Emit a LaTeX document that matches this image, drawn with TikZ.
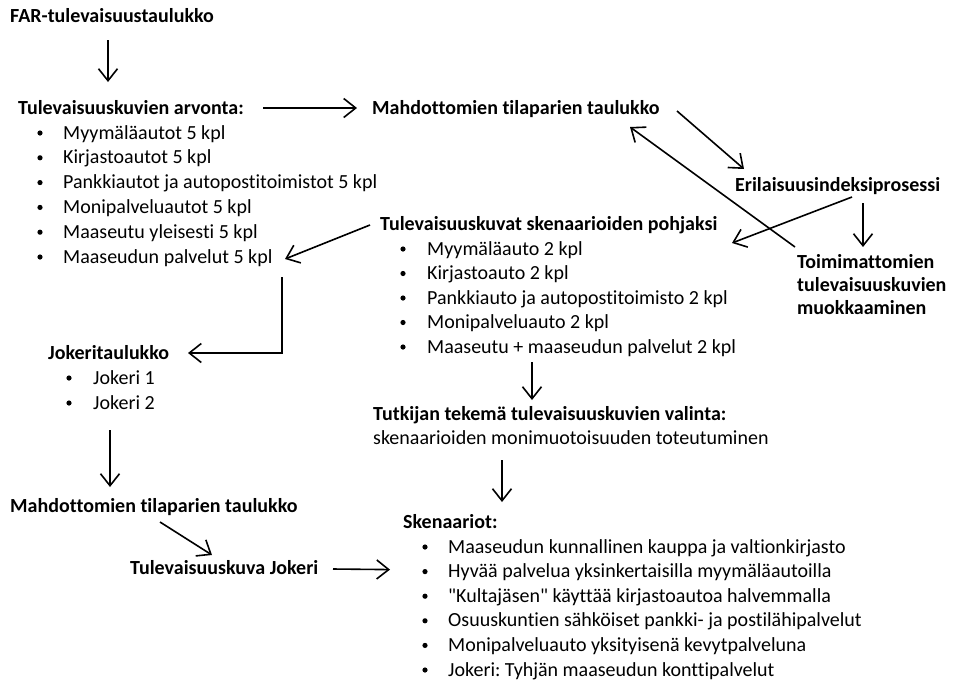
\documentclass[tikz,border=0pt]{standalone}
\usepackage{fontspec}
\setmainfont{Carlito}[Ligatures={NoCommon}]
\usetikzlibrary{arrows.meta,calc}
\frenchspacing
\begin{document}
\begin{tikzpicture}[x=1pt,y=-1pt,
  txt/.style={anchor=base west, inner sep=0pt, font=\fontsize{20}{24}\selectfont},
  hd/.style={anchor=base west, inner sep=0pt, font=\fontsize{20}{24}\selectfont\bfseries},
  arr/.style={line width=1.6pt, -{Straight Barb[length=12pt,width=19pt,line width=1.6pt]}},
  bul/.style={fill=black}]
\fill[white] (0,0) rectangle (953,681);
\useasboundingbox (0,0) rectangle (953,681);

% headings
\node[hd] (far) at (10,22) {FAR-tulevaisuustaulukko};
\node[hd] (arv) at (18,114) {Tulevaisuuskuvien arvonta:};
\node[hd] (mahd1) at (372,114) {Mahdottomien tilaparien taulukko};
\node[hd] (eril) at (735,191) {Erilaisuusindeksiprosessi};
\node[hd] (toim1) at (797,268) {Toimimattomien};
\node[hd] (toim2) at (797,291) {tulevaisuuskuvien};
\node[hd] (toim3) at (797,314) {muokkaaminen};
\node[hd] (tk) at (380,230) {Tulevaisuuskuvat skenaarioiden pohjaksi};
\node[hd] (tutk) at (373,420) {Tutkijan tekemä tulevaisuuskuvien valinta:};
\node[txt] (tutk2) at (373,444) {skenaarioiden monimuotoisuuden toteutuminen};
\node[hd] (sken) at (403,528) {Skenaariot:};
\node[hd] (jok) at (48,359) {Jokeritaulukko};
\node[hd] (mahd2) at (10,512) {Mahdottomien tilaparien taulukko};
\node[hd] (tkj) at (130,574) {Tulevaisuuskuva Jokeri};

% list 1
\foreach \t [count=\i] in {Myymäläautot 5 kpl, Kirjastoautot 5 kpl, Pankkiautot ja autopostitoimistot 5 kpl, Monipalveluautot 5 kpl, Maaseutu yleisesti 5 kpl, Maaseudun palvelut 5 kpl}{
  \node[txt] (l1-\i) at (63,{139+24.8*(\i-1)}) {\t};
  \fill[bul] ($(l1-\i.base west)+(-23,-6)$) circle (2.6pt);
}
% list 2
\foreach \t [count=\i] in {Myymäläauto 2 kpl, Kirjastoauto 2 kpl, Pankkiauto ja autopostitoimisto 2 kpl, Monipalveluauto 2 kpl, Maaseutu + maaseudun palvelut 2 kpl}{
  \node[txt] (l2-\i) at (427,{255+24.5*(\i-1)}) {\t};
  \fill[bul] ($(l2-\i.base west)+(-24,-6)$) circle (2.6pt);
}
% jokeri list
\foreach \t [count=\i] in {Jokeri 1, Jokeri 2}{
  \node[txt] (j-\i) at (93,{384+25*(\i-1)}) {\t};
  \fill[bul] ($(j-\i.base west)+(-24,-6)$) circle (2.6pt);
}
% skenaariot list
\foreach \t [count=\i] in {Maaseudun kunnallinen kauppa ja valtionkirjasto, Hyvää palvelua yksinkertaisilla myymäläautoilla, \textquotedbl Kultajäsen\textquotedbl{} käyttää kirjastoautoa halvemmalla, Osuuskuntien sähköiset pankki- ja postilähipalvelut, Monipalveluauto yksityisenä kevytpalveluna, Jokeri: Tyhjän maaseudun konttipalvelut}{
  \node[txt] (s-\i) at (448,{553+24.6*(\i-1)}) {\t};
  \fill[bul] ($(s-\i.base west)+(-23,-6)$) circle (2.6pt);
}

% arrows
\draw[arr] ($(far.base west)+(98,18)$) -- ($(far.base west)+(98,60)$);
\draw[arr] ($(arv.base west)+(245,-6)$) -- ($(mahd1.base west)+(-15,-6)$);
\draw[arr] ($(mahd1.base west)+(305,-3)$) -- ($(eril.base west)+(9,-22)$);
\draw[arr] ($(toim1.base west)+(-2,-21)$) -- ($(mahd1.base west)+(258,13)$);
\draw[arr] ($(eril.base west)+(117,6)$) -- ($(tk.base west)+(352,13)$);
\draw[arr] ($(eril.base west)+(128,12)$) -- ($(toim1.base west)+(66,-21)$);
\draw[arr] ($(tk.base west)+(-10,-5)$) -- ($(l1-6.base west)+(222,-4)$);
\draw[arr] ($(l1-6.base west)+(219,14)$) |- ($(jok.base west)+(140,-6)$);
\draw[arr] ($(l2-5.base west)+(105,9)$) -- ($(tutk.base west)+(159,-20)$);
\draw[arr] ($(tutk2.base west)+(129,16)$) -- ($(sken.base west)+(99,-26)$);
\draw[arr] ($(j-2.base west)+(17,21)$) -- ($(mahd2.base west)+(100,-25)$);
\draw[arr] ($(mahd2.base west)+(150,10)$) -- ($(tkj.base west)+(82,-19)$);
\draw[arr] ($(tkj.base west)+(203,-5)$) -- ($(s-2.base west)+(-58,-8)$);
\end{tikzpicture}
\end{document}
